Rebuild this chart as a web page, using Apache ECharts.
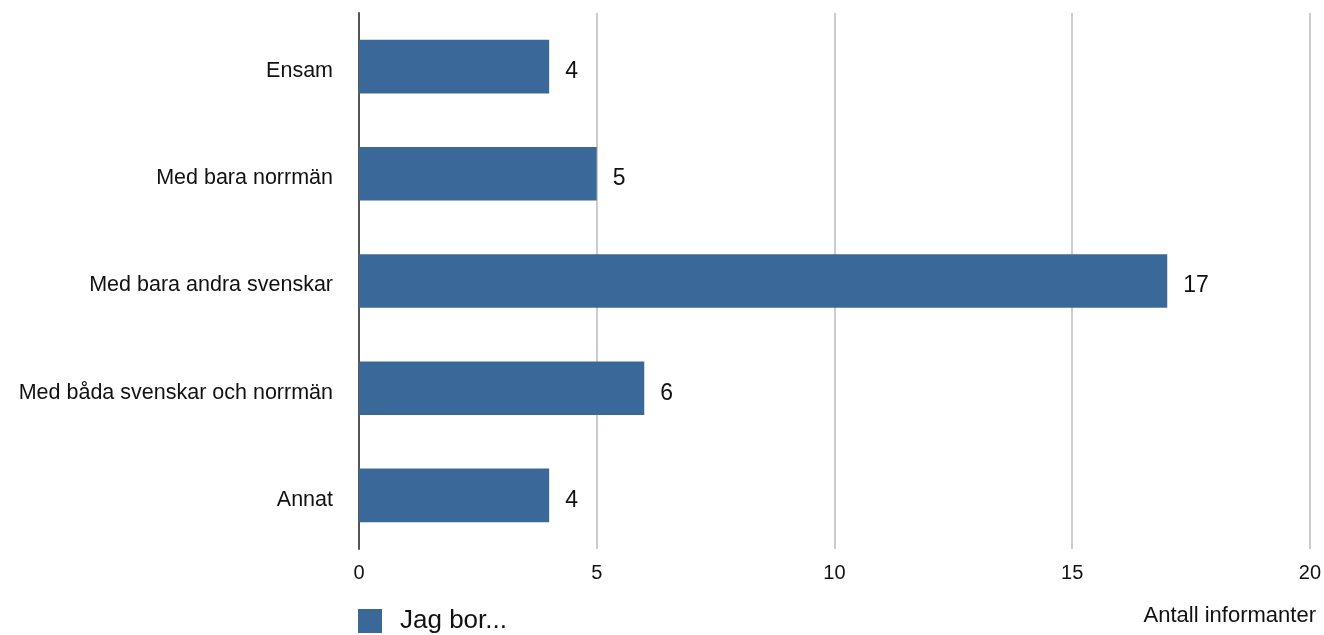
<!DOCTYPE html>
<html><head><meta charset="utf-8">
<script src="https://cdn.jsdelivr.net/npm/echarts@6/dist/echarts.min.js"></script>
<style>html,body{margin:0;padding:0;background:#fff}#c{width:1324px;height:635px}</style>
</head><body><div id="c"></div>
<script>
const categories = ["Ensam", "Med bara norrmän", "Med bara andra svenskar", "Med båda svenskar och norrmän", "Annat"];
const values = [4, 5, 17, 6, 4];
const seriesName = "Jag bor...";
const axisTitle = "Antall informanter";
const FONT = "Liberation Sans, Arial, Helvetica, sans-serif";
const chart = echarts.init(document.getElementById('c'));
chart.setOption({
  animation: false,
  textStyle: { fontFamily: FONT },
  grid: { left: 359, right: 10, top: 13, bottom: 86, containLabel: false },
  title: { text: axisTitle, right: 3, top: 600, textStyle: { fontFamily: FONT, fontSize: 22, fontWeight: 'normal', color: '#111' } },
  legend: {
    left: 353, top: 603, itemWidth: 24, itemHeight: 24, itemGap: 10,
    icon: 'rect',
    textStyle: { fontFamily: FONT, fontSize: 26, color: '#111', padding: [0, 0, 0, 13] },
    data: [seriesName]
  },
  xAxis: {
    type: 'value', min: 0, max: 20, interval: 5,
    axisLine: { show: false }, axisTick: { show: false },
    splitLine: { show: true, lineStyle: { color: '#cccccc', width: 2 } },
    axisLabel: { fontFamily: FONT, fontSize: 20, color: '#111', margin: 14 }
  },
  yAxis: {
    type: 'category', data: categories, inverse: true,
    axisLine: { show: true, lineStyle: { color: '#555', width: 2 } },
    axisTick: { show: false },
    axisLabel: { fontFamily: FONT, fontSize: 21.5, color: '#111', margin: 26,
      formatter: function (v) { return '{v|' + v + '}'; },
      rich: { v: { fontFamily: FONT, fontSize: 21.5, color: '#111', padding: [9, 0, 0, 0] } } }
  },
  series: [{
    name: seriesName, type: 'bar', data: values, barWidth: '50%',
    itemStyle: { color: '#3a6898' },
    label: { show: true, position: 'right', distance: 16, offset: [0, 5], fontFamily: FONT, fontSize: 23, color: '#111' }
  }]
});
</script></body></html>
